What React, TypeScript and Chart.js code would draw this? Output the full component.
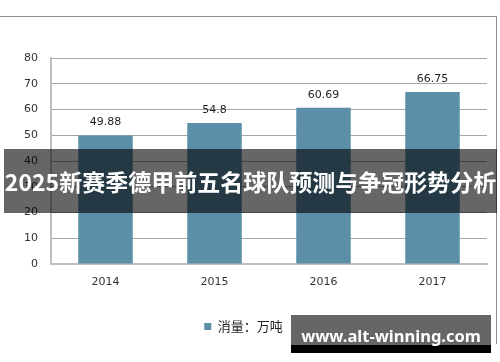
import React, { useEffect, useRef } from "react";
import { Chart, registerables } from "chart.js";

Chart.register(...registerables);

const categories = ["2014", "2015", "2016", "2017"];
const salesValues = [49.88, 54.8, 60.69, 66.75];
const valueLabels = ["49.88", "54.8", "60.69", "66.75"];
const seriesName = "消量：万吨";
const yTicks = [0, 10, 20, 30, 40, 50, 60, 70, 80];
const bannerTitle = "2025新赛季德甲前五名球队预测与争冠形势分析";
const watermark = "www.alt-winning.com";

const BAR_COLOR = "#5b8fa8";
const TICK_FONT = "'DejaVu Sans', Verdana, sans-serif";

const valueLabelPlugin = {
  id: "valueLabels",
  afterDatasetsDraw(chart: any) {
    const ctx = chart.ctx;
    const meta = chart.getDatasetMeta(0);
    ctx.save();
    ctx.font = `11px ${TICK_FONT}`;
    ctx.fillStyle = "#1f1f1f";
    ctx.textAlign = "center";
    ctx.textBaseline = "middle";
    meta.data.forEach((bar: any, i: number) => {
      ctx.fillText(valueLabels[i], bar.x, bar.y - 13);
    });
    ctx.restore();
  },
};

export default function App() {
  const canvasRef = useRef<HTMLCanvasElement | null>(null);

  useEffect(() => {
    if (!canvasRef.current) return;
    const chart = new Chart(canvasRef.current, {
      type: "bar",
      data: {
        labels: categories,
        datasets: [
          {
            label: seriesName,
            data: salesValues,
            backgroundColor: BAR_COLOR,
            borderWidth: 0,
            barPercentage: 0.5,
            categoryPercentage: 1,
          },
        ],
      },
      options: {
        responsive: false,
        animation: false,
        layout: { padding: { top: 58, right: 13, left: 0, bottom: 19 } },
        plugins: {
          tooltip: { enabled: false },
          legend: {
            position: "bottom",
            labels: {
              boxWidth: 7,
              boxHeight: 7,
              padding: 10,
              color: "#262626",
              font: { size: 13, family: "'Noto Sans CJK SC', sans-serif" },
            },
          },
        },
        scales: {
          x: {
            grid: { display: false, drawTicks: false },
            border: { display: true, color: "#bfbfbf", width: 2 },
            ticks: {
              color: "#333333",
              font: { size: 11, family: TICK_FONT },
              padding: 12,
            },
            afterFit(scale: any) {
              scale.height = 46;
            },
          },
          y: {
            min: 0,
            max: 80,
            afterBuildTicks(scale: any) {
              scale.ticks = yTicks.map((v) => ({ value: v }));
            },
            grid: { color: "#a6a6a6", lineWidth: 1, drawTicks: false },
            border: { display: true, color: "#bfbfbf", width: 2 },
            ticks: {
              color: "#333333",
              font: { size: 11, family: TICK_FONT },
              padding: 13,
            },
            afterFit(scale: any) {
              scale.width = 51;
            },
          },
        },
      },
      plugins: [valueLabelPlugin],
    });
    return () => chart.destroy();
  }, []);

  return (
    <div
      style={{
        position: "fixed",
        left: 0,
        top: 0,
        width: 500,
        height: 362,
        background: "#ffffff",
        overflow: "hidden",
      }}
    >
      <canvas ref={canvasRef} width={500} height={362} style={{ position: "absolute", left: 0, top: 0 }} />
      <div
        style={{
          position: "absolute",
          left: -2,
          top: 16,
          width: 498,
          height: 327,
          borderTop: "1.5px solid #8c8c8c",
          borderRight: "1.5px solid #8c8c8c",
          pointerEvents: "none",
        }}
      />
      <div
        style={{
          position: "absolute",
          left: 4,
          top: 149,
          width: 493,
          height: 64,
          background: "rgba(0,0,0,0.6)",
          color: "#ffffff",
          fontFamily: "'Noto Sans CJK SC', 'Noto Sans', sans-serif",
          fontWeight: 700,
          fontSize: 23,
          lineHeight: "64px",
          textAlign: "center",
          whiteSpace: "nowrap",
        }}
      >
        {bannerTitle}
      </div>
      <div
        style={{
          position: "absolute",
          left: 291,
          top: 315,
          width: 200,
          height: 30,
          background: "#666666",
        }}
      />
      <div
        style={{
          position: "absolute",
          left: 291,
          top: 345,
          width: 200,
          height: 8,
          background: "#000000",
        }}
      />
      <div
        style={{
          position: "absolute",
          left: 291,
          top: 322,
          width: 200,
          height: 28,
          color: "#ffffff",
          fontFamily: "'Noto Sans', 'DejaVu Sans', sans-serif",
          fontWeight: 700,
          fontSize: 16.5,
          lineHeight: "28px",
          textAlign: "center",
          whiteSpace: "nowrap",
        }}
      >
        {watermark}
      </div>
    </div>
  );
}
